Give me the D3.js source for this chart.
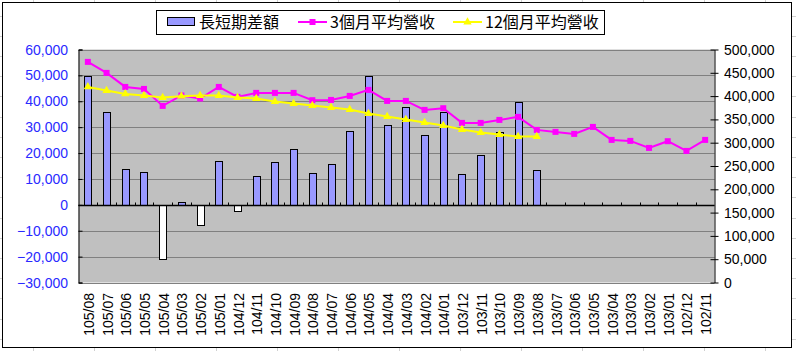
<!DOCTYPE html>
<html>
<head>
<meta charset="utf-8">
<script src="https://cdn.jsdelivr.net/npm/d3@7"></script>
<style>
  body { margin: 0; background: #fff; }
  svg { display: block; }
  .tick-label { font-family: "Liberation Sans", Arial, sans-serif; font-size: 14px; }
</style>
</head>
<body>
<div id="chart"></div>
<script>
// months, newest first
const months = ["105/08","105/07","105/06","105/05","105/04","105/03","105/02","105/01",
    "104/12","104/11","104/10","104/09","104/08","104/07","104/06","104/05","104/04","104/03","104/02","104/01",
    "103/12","103/11","103/10","103/09","103/08","103/07","103/06","103/05","103/04","103/03","103/02","103/01",
    "102/12","102/11"];

// 長短期差額 (left axis)
const diffValues = [49800, 35900, 13900, 12700, -20900, 1200, -7700, 17000,
    -2300, 11200, 16600, 21600, 12400, 15800, 28600, 49800, 30900, 37900, 27000, 35900,
    12000, 19300, 28200, 39800, 13500];

// 3個月平均營收 (right axis)
const avg3Values = [473400, 449800, 419700, 415400, 379000, 401300, 394800, 419700,
    398300, 406900, 406900, 406900, 391200, 391800, 400400, 413300, 389700, 389700, 370400, 374000,
    342500, 342500, 348900, 355400, 327500, 323200, 318900, 333900, 306000, 303900, 288800, 303200,
    282400, 306000];

// 12個月平均營收 (right axis)
const avg12Values = [419700, 412000, 404700, 401300, 397000, 399800, 401300, 401300,
    397000, 394800, 388400, 384100, 379800, 375500, 371200, 362700, 356200, 349800, 343300, 336900,
    328300, 321900, 317600, 313300, 313300];

const leftTicks = [-30000, -20000, -10000, 0, 10000, 20000, 30000, 40000, 50000, 60000];
const rightTicks = [0, 50000, 100000, 150000, 200000, 250000, 300000, 350000, 400000, 450000, 500000];

const legendNames = ["長短期差額", "3個月平均營收", "12個月平均營收"];

const W = 796, H = 351;
const plot = {left: 78.5, right: 714.5, top: 49.5, bottom: 282.5};

const svg = d3.select("#chart").append("svg")
    .attr("width", W)
    .attr("height", H);

// spreadsheet cell lines peeking outside the chart frame
const cells = svg.append("g").attr("stroke", "#d0d0d0").attr("stroke-width", 1);
d3.range(33.5, W, 61).forEach(x => {
    cells.append("line").attr("x1", x).attr("x2", x).attr("y1", 0).attr("y2", H);
});
d3.range(15.5, H, 20.2).forEach(y => {
    cells.append("line").attr("x1", 0).attr("x2", W).attr("y1", Math.round(y) + 0.5).attr("y2", Math.round(y) + 0.5);
});

// chart frame
svg.append("rect")
    .attr("x", 2.5).attr("y", 2.5)
    .attr("width", 789).attr("height", 345)
    .attr("fill", "#fff")
    .attr("stroke", "#000");

// scales
const x = d3.scaleBand()
    .domain(months)
    .range([plot.left, plot.right])
    .padding(0);

const yL = d3.scaleLinear()
    .domain([-30000, 60000])
    .range([plot.bottom, plot.top]);

const yR = d3.scaleLinear()
    .domain([0, 500000])
    .range([plot.bottom, plot.top]);

// plot background
svg.append("rect")
    .attr("x", plot.left).attr("y", plot.top)
    .attr("width", plot.right - plot.left)
    .attr("height", plot.bottom - plot.top)
    .attr("fill", "#c0c0c0");

// gridlines
svg.append("g")
    .selectAll("line")
    .data(leftTicks)
    .join("line")
    .attr("x1", plot.left).attr("x2", plot.right)
    .attr("y1", d => Math.round(yL(d)) + 0.5)
    .attr("y2", d => Math.round(yL(d)) + 0.5)
    .attr("stroke", "#808080");

// bars
const barW = 7;
svg.append("g")
    .selectAll("rect")
    .data(diffValues)
    .join("rect")
    .attr("x", (d, i) => Math.round(x(months[i]) + x.bandwidth() / 2 - barW / 2) + 0.5)
    .attr("y", d => Math.round(yL(Math.max(0, d))) + 0.5)
    .attr("width", barW)
    .attr("height", d => Math.abs(Math.round(yL(d)) - Math.round(yL(0))))
    .attr("fill", d => d < 0 ? "#ffffff" : "#9999ff")
    .attr("stroke", "#000")
    .attr("stroke-width", 1);

// category axis on the zero line
const zeroY = Math.round(yL(0)) + 0.5;
const catAxis = svg.append("g");
catAxis.append("line")
    .attr("x1", plot.left).attr("x2", plot.right)
    .attr("y1", zeroY).attr("y2", zeroY)
    .attr("stroke", "#000").attr("stroke-width", 1.5);
catAxis.selectAll(".ctick")
    .data(months.slice(1))
    .join("line")
    .attr("class", "ctick")
    .attr("x1", d => Math.round(x(d)) + 0.5)
    .attr("x2", d => Math.round(x(d)) + 0.5)
    .attr("y1", zeroY).attr("y2", zeroY - 3)
    .attr("stroke", "#000");

// left axis
const leftAxis = svg.append("g")
    .attr("transform", `translate(${plot.left},0)`)
    .call(d3.axisRight(yL).tickValues(leftTicks).tickSize(4).tickFormat(""));
leftAxis.select(".domain").attr("stroke", "#000");
leftAxis.selectAll(".tick line").attr("stroke", "#000");

svg.append("g")
    .selectAll("text")
    .data(leftTicks)
    .join("text")
    .attr("class", "tick-label")
    .attr("x", 68)
    .attr("y", d => yL(d))
    .attr("dy", "0.36em")
    .attr("text-anchor", "end")
    .attr("fill", "#2a2aff")
    .text(d => d3.format(",")(d));

// right axis
const rightAxis = svg.append("g")
    .attr("transform", `translate(${plot.right},0)`)
    .call(d3.axisRight(yR).tickValues(rightTicks).tickSizeInner(4).tickSizeOuter(0).tickFormat(""));
rightAxis.select(".domain").attr("stroke", "#000");
rightAxis.selectAll(".tick line").attr("x1", -4).attr("x2", 4).attr("stroke", "#000");

svg.append("g")
    .selectAll("text")
    .data(rightTicks)
    .join("text")
    .attr("class", "tick-label")
    .attr("x", 724)
    .attr("y", d => yR(d))
    .attr("dy", "0.36em")
    .attr("fill", "#000")
    .text(d => d3.format(",")(d));

// x labels
svg.append("g")
    .selectAll("text")
    .data(months)
    .join("text")
    .attr("class", "tick-label")
    .attr("transform", d => `translate(${x(d) + x.bandwidth() / 2 + 1},293) rotate(-90)`)
    .attr("text-anchor", "end")
    .attr("dy", "0.36em")
    .attr("fill", "#000")
    .text(d => d);

// lines
const line3 = d3.line()
    .x((d, i) => x(months[i]) + x.bandwidth() / 2)
    .y(d => yR(d));

svg.append("path")
    .datum(avg3Values)
    .attr("d", line3)
    .attr("fill", "none")
    .attr("stroke", "#ff00ff")
    .attr("stroke-width", 2);

svg.append("g")
    .selectAll("rect")
    .data(avg3Values)
    .join("rect")
    .attr("x", (d, i) => x(months[i]) + x.bandwidth() / 2 - 3)
    .attr("y", d => yR(d) - 3)
    .attr("width", 6).attr("height", 6)
    .attr("fill", "#ff00ff");

svg.append("path")
    .datum(avg12Values)
    .attr("d", line3)
    .attr("fill", "none")
    .attr("stroke", "#ffff00")
    .attr("stroke-width", 2);

const tri = d3.symbol().type(d3.symbolTriangle).size(30);
svg.append("g")
    .selectAll("path")
    .data(avg12Values)
    .join("path")
    .attr("transform", (d, i) => `translate(${x(months[i]) + x.bandwidth() / 2},${yR(d)})`)
    .attr("d", tri)
    .attr("fill", "#ffff00");

// legend
const legend = svg.append("g");
legend.append("rect")
    .attr("x", 156.5).attr("y", 10.5)
    .attr("width", 448).attr("height", 24)
    .attr("fill", "#fff").attr("stroke", "#000");

legend.append("rect")
    .attr("x", 167.5).attr("y", 17.5)
    .attr("width", 27).attr("height", 8)
    .attr("fill", "#9999ff").attr("stroke", "#000");

legend.append("line")
    .attr("x1", 298).attr("x2", 327).attr("y1", 22).attr("y2", 22)
    .attr("stroke", "#ff00ff").attr("stroke-width", 2);
legend.append("rect")
    .attr("x", 309.5).attr("y", 19).attr("width", 6).attr("height", 6)
    .attr("fill", "#ff00ff");

legend.append("line")
    .attr("x1", 453).attr("x2", 482).attr("y1", 22).attr("y2", 22)
    .attr("stroke", "#ffff00").attr("stroke-width", 2);
legend.append("path")
    .attr("transform", "translate(467.5,22)")
    .attr("d", tri)
    .attr("fill", "#ffff00");

const legendX = [199, 330, 485];
legend.selectAll(".ltext")
    .data(legendNames)
    .join("text")
    .attr("class", "ltext")
    .attr("x", (d, i) => legendX[i])
    .attr("y", 22)
    .attr("dy", "0.36em")
    .attr("font-family", "'Noto Sans CJK TC', 'Noto Sans', sans-serif")
    .attr("font-size", 16)
    .attr("fill", "#000")
    .text(d => d);
</script>
</body>
</html>
